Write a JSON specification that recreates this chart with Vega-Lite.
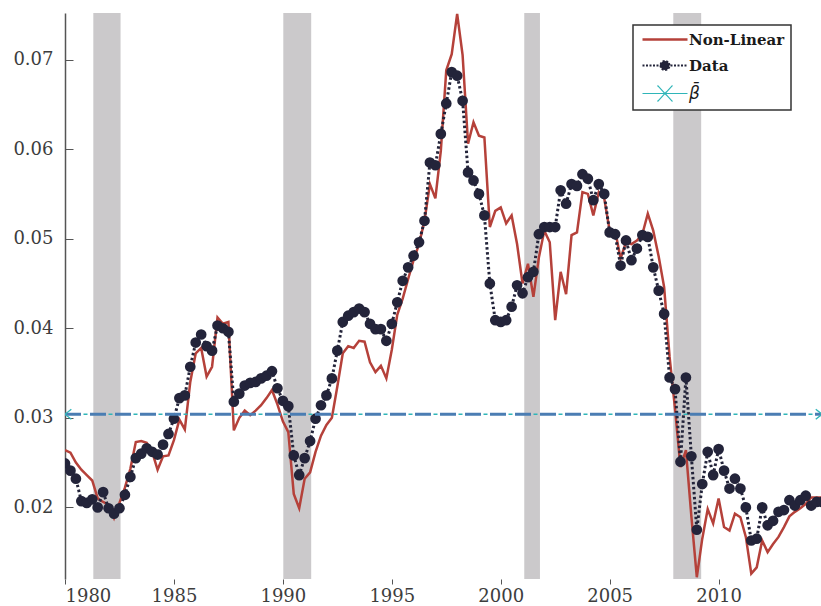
{
  "$schema": "https://vega.github.io/schema/vega-lite/v6.json",
  "width": 756,
  "height": 566,
  "autosize": {"type": "none"},
  "padding": {"left": 65, "top": 13, "right": 0, "bottom": 27},
  "background": "white",
  "config": {
    "view": {"stroke": null},
    "font": "DejaVu Serif",
    "axis": {"labelFont": "DejaVu Serif", "labelFontSize": 18, "labelColor": "#3d3d3d", "grid": false, "domainColor": "#555555", "tickColor": "#555555"}
  },
  "datasets": {
    "rec": [
      {"s": 1981.3, "e": 1982.55},
      {"s": 1990.02, "e": 1991.3},
      {"s": 2001.08, "e": 2001.8},
      {"s": 2007.92, "e": 2009.2}
    ],
    "beta": [
      {"t": 1980, "v": 0.0304, "series": "\u03b2\u0304"},
      {"t": 2014.75, "v": 0.0304, "series": "\u03b2\u0304"}
    ],
    "main": [
      {"t": 1980.00, "Non-Linear": 0.0264, "Data": 0.0249},
      {"t": 1980.25, "Non-Linear": 0.0261, "Data": 0.0241},
      {"t": 1980.50, "Non-Linear": 0.0250, "Data": 0.0232},
      {"t": 1980.75, "Non-Linear": 0.0242, "Data": 0.0207},
      {"t": 1981.00, "Non-Linear": 0.0236, "Data": 0.0205},
      {"t": 1981.25, "Non-Linear": 0.0230, "Data": 0.0209},
      {"t": 1981.50, "Non-Linear": 0.0210, "Data": 0.0200},
      {"t": 1981.75, "Non-Linear": 0.0206, "Data": 0.0217},
      {"t": 1982.00, "Non-Linear": 0.0203, "Data": 0.0199},
      {"t": 1982.25, "Non-Linear": 0.0188, "Data": 0.0193},
      {"t": 1982.50, "Non-Linear": 0.0205, "Data": 0.0199},
      {"t": 1982.75, "Non-Linear": 0.0222, "Data": 0.0214},
      {"t": 1983.00, "Non-Linear": 0.0243, "Data": 0.0234},
      {"t": 1983.25, "Non-Linear": 0.0273, "Data": 0.0255},
      {"t": 1983.50, "Non-Linear": 0.0274, "Data": 0.0260},
      {"t": 1983.75, "Non-Linear": 0.0272, "Data": 0.0266},
      {"t": 1984.00, "Non-Linear": 0.0262, "Data": 0.0262},
      {"t": 1984.25, "Non-Linear": 0.0242, "Data": 0.0259},
      {"t": 1984.50, "Non-Linear": 0.0257, "Data": 0.0270},
      {"t": 1984.75, "Non-Linear": 0.0258, "Data": 0.0282},
      {"t": 1985.00, "Non-Linear": 0.0275, "Data": 0.0299},
      {"t": 1985.25, "Non-Linear": 0.0298, "Data": 0.0322},
      {"t": 1985.50, "Non-Linear": 0.0287, "Data": 0.0325},
      {"t": 1985.75, "Non-Linear": 0.0340, "Data": 0.0357},
      {"t": 1986.00, "Non-Linear": 0.0372, "Data": 0.0384},
      {"t": 1986.25, "Non-Linear": 0.0378, "Data": 0.0393},
      {"t": 1986.50, "Non-Linear": 0.0346, "Data": 0.0380},
      {"t": 1986.75, "Non-Linear": 0.0357, "Data": 0.0375},
      {"t": 1987.00, "Non-Linear": 0.0412, "Data": 0.0403},
      {"t": 1987.25, "Non-Linear": 0.0405, "Data": 0.0400},
      {"t": 1987.50, "Non-Linear": 0.0407, "Data": 0.0396},
      {"t": 1987.75, "Non-Linear": 0.0286, "Data": 0.0318},
      {"t": 1988.00, "Non-Linear": 0.0300, "Data": 0.0327},
      {"t": 1988.25, "Non-Linear": 0.0308, "Data": 0.0336},
      {"t": 1988.50, "Non-Linear": 0.0303, "Data": 0.0339},
      {"t": 1988.75, "Non-Linear": 0.0308, "Data": 0.0340},
      {"t": 1989.00, "Non-Linear": 0.0314, "Data": 0.0344},
      {"t": 1989.25, "Non-Linear": 0.0322, "Data": 0.0347},
      {"t": 1989.50, "Non-Linear": 0.0331, "Data": 0.0352},
      {"t": 1989.75, "Non-Linear": 0.0315, "Data": 0.0333},
      {"t": 1990.00, "Non-Linear": 0.0296, "Data": 0.0319},
      {"t": 1990.25, "Non-Linear": 0.0284, "Data": 0.0313},
      {"t": 1990.50, "Non-Linear": 0.0215, "Data": 0.0258},
      {"t": 1990.75, "Non-Linear": 0.0199, "Data": 0.0236},
      {"t": 1991.00, "Non-Linear": 0.0232, "Data": 0.0255},
      {"t": 1991.25, "Non-Linear": 0.0239, "Data": 0.0274},
      {"t": 1991.50, "Non-Linear": 0.0262, "Data": 0.0299},
      {"t": 1991.75, "Non-Linear": 0.0280, "Data": 0.0314},
      {"t": 1992.00, "Non-Linear": 0.0292, "Data": 0.0325},
      {"t": 1992.25, "Non-Linear": 0.0300, "Data": 0.0344},
      {"t": 1992.50, "Non-Linear": 0.0335, "Data": 0.0375},
      {"t": 1992.75, "Non-Linear": 0.0372, "Data": 0.0407},
      {"t": 1993.00, "Non-Linear": 0.0380, "Data": 0.0414},
      {"t": 1993.25, "Non-Linear": 0.0378, "Data": 0.0418},
      {"t": 1993.50, "Non-Linear": 0.0386, "Data": 0.0422},
      {"t": 1993.75, "Non-Linear": 0.0385, "Data": 0.0418},
      {"t": 1994.00, "Non-Linear": 0.0362, "Data": 0.0405},
      {"t": 1994.25, "Non-Linear": 0.0351, "Data": 0.0399},
      {"t": 1994.50, "Non-Linear": 0.0358, "Data": 0.0399},
      {"t": 1994.75, "Non-Linear": 0.0344, "Data": 0.0386},
      {"t": 1995.00, "Non-Linear": 0.0376, "Data": 0.0405},
      {"t": 1995.25, "Non-Linear": 0.0415, "Data": 0.0429},
      {"t": 1995.50, "Non-Linear": 0.0433, "Data": 0.0453},
      {"t": 1995.75, "Non-Linear": 0.0455, "Data": 0.0468},
      {"t": 1996.00, "Non-Linear": 0.0476, "Data": 0.0481},
      {"t": 1996.25, "Non-Linear": 0.0494, "Data": 0.0496},
      {"t": 1996.50, "Non-Linear": 0.0520, "Data": 0.0520},
      {"t": 1996.75, "Non-Linear": 0.0561, "Data": 0.0585},
      {"t": 1997.00, "Non-Linear": 0.0545, "Data": 0.0582},
      {"t": 1997.25, "Non-Linear": 0.0598, "Data": 0.0617},
      {"t": 1997.50, "Non-Linear": 0.0688, "Data": 0.0651},
      {"t": 1997.75, "Non-Linear": 0.0706, "Data": 0.0686},
      {"t": 1998.00, "Non-Linear": 0.0751, "Data": 0.0682},
      {"t": 1998.25, "Non-Linear": 0.0705, "Data": 0.0654},
      {"t": 1998.50, "Non-Linear": 0.0606, "Data": 0.0574},
      {"t": 1998.75, "Non-Linear": 0.0630, "Data": 0.0565},
      {"t": 1999.00, "Non-Linear": 0.0615, "Data": 0.0550},
      {"t": 1999.25, "Non-Linear": 0.0613, "Data": 0.0526},
      {"t": 1999.50, "Non-Linear": 0.0513, "Data": 0.0450},
      {"t": 1999.75, "Non-Linear": 0.0531, "Data": 0.0409},
      {"t": 2000.00, "Non-Linear": 0.0535, "Data": 0.0407},
      {"t": 2000.25, "Non-Linear": 0.0517, "Data": 0.0409},
      {"t": 2000.50, "Non-Linear": 0.0526, "Data": 0.0424},
      {"t": 2000.75, "Non-Linear": 0.0494, "Data": 0.0448},
      {"t": 2001.00, "Non-Linear": 0.0450, "Data": 0.0439},
      {"t": 2001.25, "Non-Linear": 0.0472, "Data": 0.0457},
      {"t": 2001.50, "Non-Linear": 0.0435, "Data": 0.0463},
      {"t": 2001.75, "Non-Linear": 0.0479, "Data": 0.0505},
      {"t": 2002.00, "Non-Linear": 0.0509, "Data": 0.0513},
      {"t": 2002.25, "Non-Linear": 0.0496, "Data": 0.0513},
      {"t": 2002.50, "Non-Linear": 0.0409, "Data": 0.0513},
      {"t": 2002.75, "Non-Linear": 0.0463, "Data": 0.0554},
      {"t": 2003.00, "Non-Linear": 0.0438, "Data": 0.0539},
      {"t": 2003.25, "Non-Linear": 0.0504, "Data": 0.0561},
      {"t": 2003.50, "Non-Linear": 0.0507, "Data": 0.0559},
      {"t": 2003.75, "Non-Linear": 0.0552, "Data": 0.0572},
      {"t": 2004.00, "Non-Linear": 0.0550, "Data": 0.0567},
      {"t": 2004.25, "Non-Linear": 0.0526, "Data": 0.0543},
      {"t": 2004.50, "Non-Linear": 0.0552, "Data": 0.0561},
      {"t": 2004.75, "Non-Linear": 0.0545, "Data": 0.0550},
      {"t": 2005.00, "Non-Linear": 0.0509, "Data": 0.0507},
      {"t": 2005.25, "Non-Linear": 0.0509, "Data": 0.0505},
      {"t": 2005.50, "Non-Linear": 0.0478, "Data": 0.0470},
      {"t": 2005.75, "Non-Linear": 0.0496, "Data": 0.0498},
      {"t": 2006.00, "Non-Linear": 0.0494, "Data": 0.0476},
      {"t": 2006.25, "Non-Linear": 0.0498, "Data": 0.0489},
      {"t": 2006.50, "Non-Linear": 0.0505, "Data": 0.0504},
      {"t": 2006.75, "Non-Linear": 0.0528, "Data": 0.0502},
      {"t": 2007.00, "Non-Linear": 0.0509, "Data": 0.0468},
      {"t": 2007.25, "Non-Linear": 0.0480, "Data": 0.0442},
      {"t": 2007.50, "Non-Linear": 0.0446, "Data": 0.0416},
      {"t": 2007.75, "Non-Linear": 0.0368, "Data": 0.0345},
      {"t": 2008.00, "Non-Linear": 0.0310, "Data": 0.0332},
      {"t": 2008.25, "Non-Linear": 0.0245, "Data": 0.0251},
      {"t": 2008.50, "Non-Linear": 0.0264, "Data": 0.0345},
      {"t": 2008.75, "Non-Linear": 0.0190, "Data": 0.0257},
      {"t": 2009.00, "Non-Linear": 0.0122, "Data": 0.0175},
      {"t": 2009.25, "Non-Linear": 0.0165, "Data": 0.0226},
      {"t": 2009.50, "Non-Linear": 0.0198, "Data": 0.0262},
      {"t": 2009.75, "Non-Linear": 0.0182, "Data": 0.0236},
      {"t": 2010.00, "Non-Linear": 0.0210, "Data": 0.0265},
      {"t": 2010.25, "Non-Linear": 0.0178, "Data": 0.0241},
      {"t": 2010.50, "Non-Linear": 0.0174, "Data": 0.0221},
      {"t": 2010.75, "Non-Linear": 0.0193, "Data": 0.0232},
      {"t": 2011.00, "Non-Linear": 0.0189, "Data": 0.0221},
      {"t": 2011.25, "Non-Linear": 0.0167, "Data": 0.0200},
      {"t": 2011.50, "Non-Linear": 0.0126, "Data": 0.0163},
      {"t": 2011.75, "Non-Linear": 0.0133, "Data": 0.0165},
      {"t": 2012.00, "Non-Linear": 0.0163, "Data": 0.0200},
      {"t": 2012.25, "Non-Linear": 0.0150, "Data": 0.0180},
      {"t": 2012.50, "Non-Linear": 0.0159, "Data": 0.0185},
      {"t": 2012.75, "Non-Linear": 0.0167, "Data": 0.0195},
      {"t": 2013.00, "Non-Linear": 0.0178, "Data": 0.0197},
      {"t": 2013.25, "Non-Linear": 0.0190, "Data": 0.0208},
      {"t": 2013.50, "Non-Linear": 0.0195, "Data": 0.0202},
      {"t": 2013.75, "Non-Linear": 0.0199, "Data": 0.0208},
      {"t": 2014.00, "Non-Linear": 0.0204, "Data": 0.0213},
      {"t": 2014.25, "Non-Linear": 0.0211, "Data": 0.0202},
      {"t": 2014.50, "Non-Linear": 0.0211, "Data": 0.0206},
      {"t": 2014.75, "Non-Linear": 0.0211, "Data": 0.0206}
    ]
  },
  "layer": [
    {
      "data": {"name": "rec"},
      "mark": {"type": "rect", "color": "#cbc9cb"},
      "encoding": {
        "x": {"field": "s", "type": "quantitative", "title": null,
              "scale": {"domain": [1980, 2014.7], "nice": false, "zero": false},
              "axis": {"values": [1980, 1985, 1990, 1995, 2000, 2005, 2010], "format": "d", "title": null, "domain": false, "tickSize": 5, "labelPadding": 3}},
        "x2": {"field": "e"}
      }
    },
    {
      "data": {"name": "main"},
      "transform": [
        {"fold": ["Non-Linear", "Data"], "as": ["series", "value"]},
        {"filter": "datum.series === 'Non-Linear'"}
      ],
      "mark": {"type": "line", "strokeWidth": 2.5, "clip": true},
      "encoding": {
        "x": {"field": "t", "type": "quantitative", "title": null},
        "y": {"field": "value", "type": "quantitative", "title": null,
              "scale": {"domain": [0.012, 0.0752], "nice": false, "zero": false},
              "axis": {"values": [0.02, 0.03, 0.04, 0.05, 0.06, 0.07], "format": ".2f", "title": null, "tickSize": -8, "labelPadding": 20, "domainWidth": 1.5}},
        "color": {"field": "series", "type": "nominal",
                  "scale": {"domain": ["Non-Linear", "Data", "\u03b2\u0304"], "range": ["#b5413a", "#23243a", "#2fb5b8"]},
                  "legend": {
                    "orient": "none", "legendX": 568, "legendY": 12, "title": null,
                    "labelFont": "DejaVu Serif", "labelFontWeight": "bold", "labelFontSize": 15, "labelColor": "#1a1a1a",
                    "strokeColor": "#333333", "fillColor": "white", "padding": 6, "cornerRadius": 0,
                    "symbolSize": 100, "labelOffset": 33, "rowPadding": 8,
                    "encode": {
                      "legend": {"update": {"strokeWidth": {"value": 1.5}}},
                      "symbols": {"update": {
                        "shape": {"signal": "datum.value === 'Data' ? 'M-1,0H8M2.6,0A0.9,0.9 0 1,0 4.4,0A0.9,0.9 0 1,0 2.6,0' : datum.value === 'Non-Linear' ? 'M-1,0H8' : 'M-1,0H8M2,-1.6L5,1.6M2,1.6L5,-1.6'"},
                        "strokeDash": {"signal": "datum.value === 'Data' ? [2,1.5] : [1,0]"},
                        "fill": {"signal": "datum.value === 'Data' ? '#23243a' : 'transparent'"},
                        "strokeWidth": {"signal": "datum.value === 'Non-Linear' ? 2.5 : datum.value === 'Data' ? 2 : 1.2"},
                        "opacity": {"value": 1}
                      }},
                      "labels": {"update": {
                        "font": {"signal": "datum.value === 'Non-Linear' || datum.value === 'Data' ? 'DejaVu Serif' : 'DejaVu Sans'"},
                        "fontStyle": {"signal": "datum.value === 'Non-Linear' || datum.value === 'Data' ? 'normal' : 'italic'"},
                        "fontWeight": {"signal": "datum.value === 'Non-Linear' || datum.value === 'Data' ? 'bold' : 'normal'"},
                        "fontSize": {"signal": "datum.value === 'Non-Linear' || datum.value === 'Data' ? 15 : 17"}
                      }}
                    }
                  }}
      }
    },
    {
      "data": {"name": "main"},
      "transform": [
        {"fold": ["Non-Linear", "Data"], "as": ["series", "value"]},
        {"filter": "datum.series === 'Data'"}
      ],
      "mark": {"type": "line", "strokeWidth": 3, "strokeDash": [2.5, 2.5], "clip": true},
      "encoding": {
        "x": {"field": "t", "type": "quantitative", "title": null},
        "y": {"field": "value", "type": "quantitative", "title": null},
        "color": {"field": "series", "type": "nominal"}
      }
    },
    {
      "data": {"name": "main"},
      "mark": {"type": "point", "filled": true, "size": 115, "color": "#23243a", "opacity": 1, "clip": true},
      "encoding": {
        "x": {"field": "t", "type": "quantitative", "title": null},
        "y": {"field": "Data", "type": "quantitative", "title": null}
      }
    },
    {
      "data": {"name": "beta"},
      "mark": {"type": "line", "strokeWidth": 1.5, "strokeDash": [4, 21], "strokeDashOffset": 6.5, "clip": true},
      "encoding": {
        "x": {"field": "t", "type": "quantitative", "title": null},
        "y": {"field": "v", "type": "quantitative", "title": null},
        "color": {"field": "series", "type": "nominal"}
      }
    },
    {
      "data": {"name": "beta"},
      "mark": {"type": "line", "strokeWidth": 3, "strokeDash": [16, 9], "color": "#4b7db3", "clip": true},
      "encoding": {
        "x": {"field": "t", "type": "quantitative", "title": null},
        "y": {"field": "v", "type": "quantitative", "title": null}
      }
    },
    {
      "data": {"name": "beta"},
      "mark": {"type": "point", "shape": "M-1,-0.8L1,0.8M-1,0.8L1,-0.8", "size": 160, "strokeWidth": 1.3, "color": "#2fb5b8", "filled": false, "opacity": 1, "clip": true},
      "encoding": {
        "x": {"field": "t", "type": "quantitative", "title": null},
        "y": {"field": "v", "type": "quantitative", "title": null}
      }
    }
  ]
}
